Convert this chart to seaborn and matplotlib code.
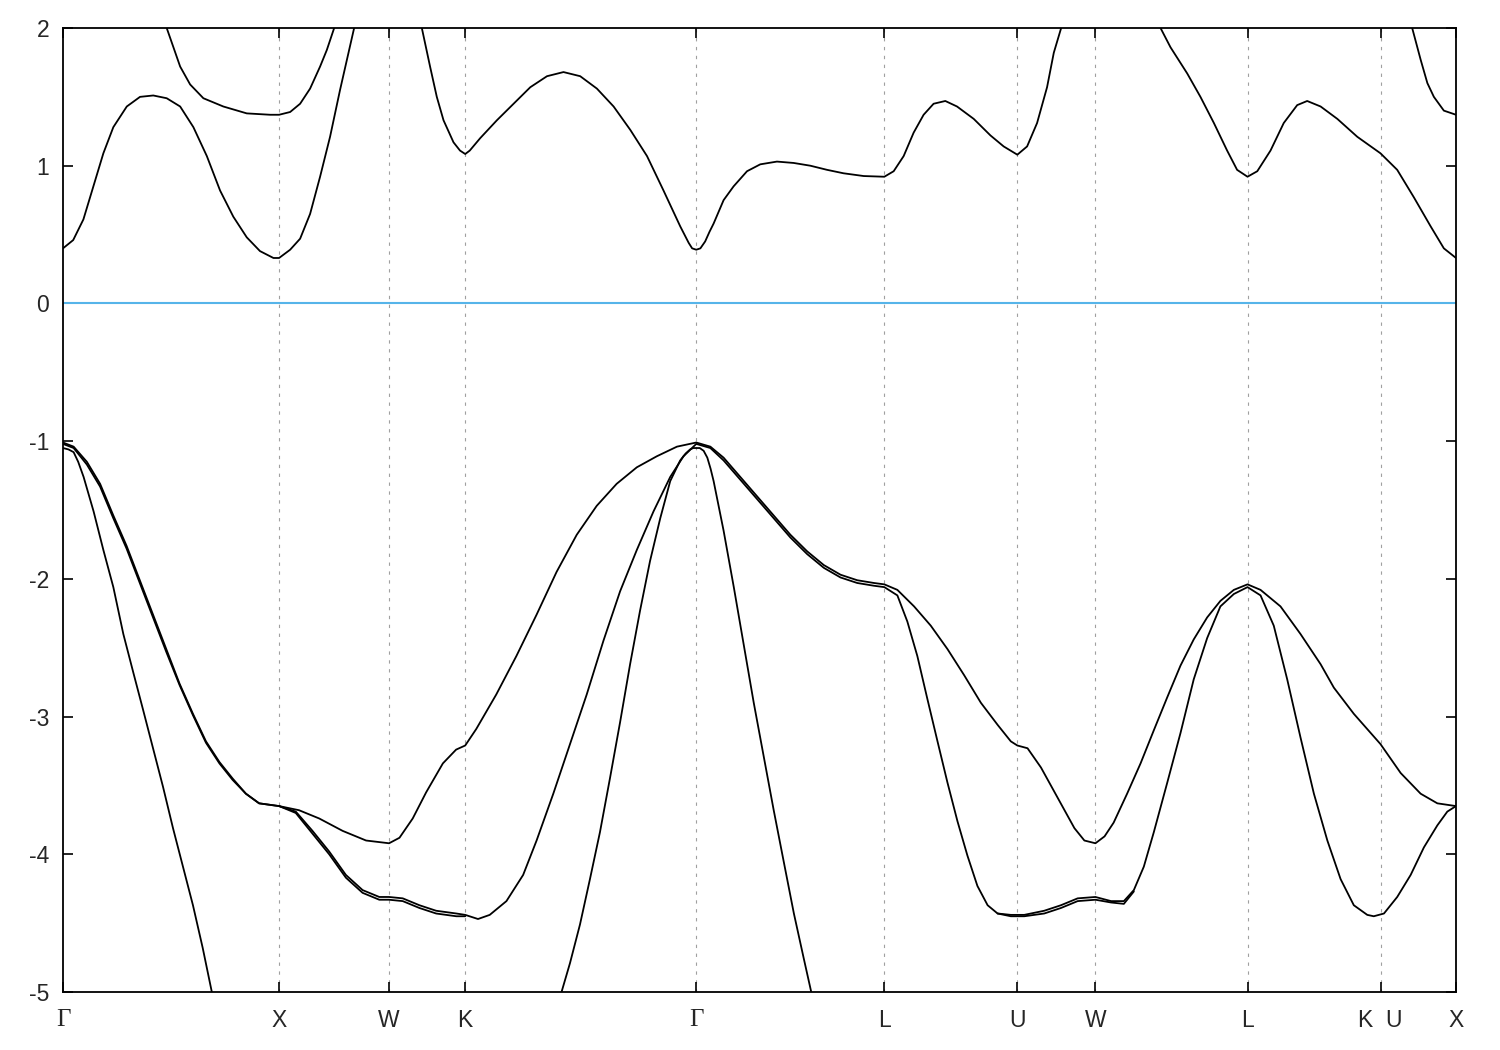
import matplotlib
matplotlib.use("Agg")
import matplotlib.pyplot as plt
import pandas as pd
import seaborn as sns

# High-symmetry points along the FCC path (path length units)
sym_labels = ["Γ", "X", "W", "K", "Γ", "L", "U", "W", "L", "K  U", "X"]
sym_k = [0.000, 0.996, 1.503, 1.854, 2.919, 3.786, 4.399, 4.759, 5.460, 6.073, 6.421]

# Conduction bands (eV); points above 2 eV leave the window
cb1_k = [0.000, 0.047, 0.094, 0.140, 0.186, 0.232, 0.294, 0.355, 0.416, 0.478,
         0.540, 0.601, 0.663, 0.724, 0.785, 0.847, 0.908, 0.970, 0.996, 1.047,
         1.093, 1.139, 1.185, 1.231, 1.277, 1.316, 1.342, 1.416, 1.503, 1.577,
         1.654, 1.692, 1.723, 1.754, 1.800, 1.830, 1.854, 1.875, 1.923, 2.000,
         2.077, 2.154, 2.231, 2.307, 2.384, 2.461, 2.538, 2.615, 2.692, 2.768,
         2.845, 2.884, 2.900, 2.919, 2.938, 2.960, 2.980, 2.999, 3.045, 3.091,
         3.153, 3.214, 3.291, 3.368, 3.445, 3.522, 3.598, 3.691, 3.786, 3.829,
         3.875, 3.921, 3.967, 4.013, 4.067, 4.121, 4.198, 4.275, 4.336, 4.399,
         4.444, 4.490, 4.536, 4.567, 4.601, 4.690, 4.828, 4.967, 5.059, 5.105,
         5.182, 5.243, 5.305, 5.366, 5.412, 5.460, 5.505, 5.566, 5.627, 5.689,
         5.735, 5.797, 5.874, 5.966, 6.073, 6.150, 6.227, 6.304, 6.365, 6.421]
cb1_e = [0.40, 0.46, 0.61, 0.85, 1.09, 1.28, 1.43, 1.50, 1.51, 1.49,
         1.43, 1.28, 1.07, 0.82, 0.63, 0.48, 0.38, 0.33, 0.33, 0.39,
         0.47, 0.65, 0.92, 1.21, 1.55, 1.82, 2.00, 2.50, 2.80, 2.50,
         2.00, 1.72, 1.50, 1.33, 1.17, 1.11, 1.085, 1.11, 1.20, 1.33,
         1.45, 1.57, 1.65, 1.68, 1.65, 1.56, 1.43, 1.26, 1.07, 0.82,
         0.56, 0.44, 0.40, 0.39, 0.40, 0.45, 0.52, 0.58, 0.75, 0.85,
         0.96, 1.01, 1.03, 1.02, 1.00, 0.97, 0.945, 0.925, 0.92, 0.96,
         1.07, 1.24, 1.37, 1.45, 1.47, 1.43, 1.34, 1.22, 1.14, 1.08,
         1.14, 1.31, 1.57, 1.82, 2.00, 2.60, 2.90, 2.50, 2.00, 1.86,
         1.67, 1.50, 1.31, 1.11, 0.97, 0.92, 0.96, 1.11, 1.31, 1.44,
         1.47, 1.43, 1.34, 1.21, 1.09, 0.97, 0.77, 0.56, 0.40, 0.33]

cb2a_k = [0.447, 0.478, 0.509, 0.540, 0.586, 0.647, 0.739, 0.847, 0.955, 0.996,
          1.047, 1.093, 1.139, 1.185, 1.216, 1.250, 1.300]
cb2a_e = [2.25, 2.00, 1.86, 1.72, 1.59, 1.49, 1.43, 1.38, 1.37, 1.37,
          1.39, 1.45, 1.56, 1.72, 1.84, 2.00, 2.30]

cb2b_k = [6.189, 6.219, 6.258, 6.289, 6.319, 6.365, 6.421]
cb2b_e = [2.30, 2.00, 1.77, 1.60, 1.50, 1.40, 1.37]

# Valence bands (eV)
vb1_k = [0.000, 0.049, 0.110, 0.171, 0.232, 0.293, 0.354, 0.415, 0.476, 0.537,
         0.599, 0.659, 0.721, 0.782, 0.843, 0.904, 0.996,
         1.088, 1.181, 1.289, 1.397, 1.503, 1.551, 1.612, 1.674, 1.751, 1.812,
         1.854, 1.905, 1.997, 2.090, 2.183, 2.275, 2.368, 2.460, 2.552, 2.645,
         2.737, 2.830, 2.919,
         2.984, 3.045, 3.122, 3.199, 3.276, 3.353, 3.430, 3.507, 3.584, 3.661,
         3.738, 3.786,
         3.846, 3.923, 4.000, 4.077, 4.154, 4.231, 4.308, 4.369, 4.399, 4.446,
         4.508, 4.585, 4.662, 4.708, 4.759,
         4.801, 4.843, 4.905, 4.967, 5.028, 5.090, 5.151, 5.212, 5.274, 5.335,
         5.397, 5.460,
         5.520, 5.612, 5.704, 5.797, 5.858, 5.950, 6.073, 6.166, 6.258, 6.335,
         6.421]
vb1_e = [-1.01, -1.04, -1.15, -1.31, -1.54, -1.76, -2.01, -2.26, -2.51, -2.76,
         -2.98, -3.18, -3.33, -3.45, -3.56, -3.63, -3.65,
         -3.68, -3.74, -3.83, -3.90, -3.92, -3.88, -3.74, -3.55, -3.34, -3.24,
         -3.21, -3.09, -2.84, -2.56, -2.26, -1.95, -1.68, -1.47, -1.31, -1.19,
         -1.11, -1.04, -1.01,
         -1.04, -1.12, -1.26, -1.40, -1.54, -1.68, -1.80, -1.90, -1.97, -2.01,
         -2.03, -2.04,
         -2.08, -2.20, -2.34, -2.51, -2.70, -2.90, -3.06, -3.18, -3.21, -3.23,
         -3.37, -3.59, -3.81, -3.90, -3.92,
         -3.87, -3.77, -3.56, -3.34, -3.10, -2.86, -2.63, -2.44, -2.28, -2.16,
         -2.08, -2.04,
         -2.08, -2.20, -2.40, -2.62, -2.79, -2.98, -3.20, -3.41, -3.56, -3.63,
         -3.65]

vb2_k = [0.000, 0.049, 0.110, 0.171, 0.232, 0.293, 0.354, 0.415, 0.476, 0.537,
         0.599, 0.659, 0.721, 0.782, 0.843, 0.904, 0.996,
         1.073, 1.150, 1.227, 1.304, 1.381, 1.458, 1.503, 1.566, 1.643, 1.720,
         1.813, 1.854, 1.913, 1.967, 2.044, 2.121, 2.183, 2.260, 2.337, 2.414,
         2.491, 2.568, 2.645, 2.722, 2.799, 2.860, 2.919,
         2.984, 3.045, 3.122, 3.199, 3.276, 3.353, 3.430, 3.507, 3.584, 3.661,
         3.738, 3.786,
         3.846, 3.892, 3.938, 3.984, 4.031, 4.077, 4.123, 4.169, 4.215, 4.262,
         4.308, 4.369, 4.431, 4.523, 4.600, 4.677, 4.759,
         4.831, 4.890, 4.936, 4.982, 5.028, 5.090, 5.151, 5.212, 5.274, 5.335,
         5.397, 5.460,
         5.520, 5.581, 5.643, 5.704, 5.766, 5.828, 5.889, 5.950, 6.012, 6.042,
         6.089, 6.150, 6.212, 6.273, 6.335, 6.381, 6.421]
vb2_e = [-1.02, -1.05, -1.17, -1.33, -1.56, -1.78, -2.03, -2.28, -2.53, -2.77,
         -2.99, -3.19, -3.34, -3.46, -3.56, -3.63, -3.65,
         -3.69, -3.83, -3.98, -4.15, -4.26, -4.31, -4.31, -4.32, -4.37, -4.41,
         -4.43, -4.44, -4.47, -4.44, -4.34, -4.15, -3.90, -3.56, -3.20, -2.84,
         -2.45, -2.09, -1.79, -1.51, -1.26, -1.11, -1.02,
         -1.05, -1.14, -1.28, -1.42, -1.56, -1.70, -1.82, -1.92, -1.99, -2.03,
         -2.05, -2.06,
         -2.12, -2.31, -2.56, -2.87, -3.18, -3.48, -3.76, -4.01, -4.23, -4.37,
         -4.43, -4.44, -4.44, -4.41, -4.37, -4.32, -4.31,
         -4.34, -4.34, -4.26, -4.09, -3.84, -3.48, -3.12, -2.73, -2.43, -2.20,
         -2.11, -2.06,
         -2.12, -2.34, -2.73, -3.15, -3.56, -3.90, -4.18, -4.37, -4.44, -4.45,
         -4.43, -4.31, -4.15, -3.95, -3.79, -3.69, -3.65]

# short split partners of vb2 (X-W-K and U-W)
split1_k = [0.996, 1.073, 1.150, 1.227, 1.304, 1.381, 1.458, 1.503, 1.566, 1.643,
            1.720, 1.813, 1.854]
split1_e = [-3.65, -3.70, -3.85, -4.00, -4.17, -4.28, -4.33, -4.33, -4.34, -4.39,
            -4.43, -4.45, -4.45]
split2_k = [4.308, 4.369, 4.431, 4.523, 4.600, 4.677, 4.759, 4.831, 4.890, 4.936]
split2_e = [-4.43, -4.45, -4.45, -4.43, -4.39, -4.34, -4.33, -4.35, -4.36, -4.27]

# steep bands dropping out of the window
steep1_k = [0.000, 0.025, 0.049, 0.070, 0.095, 0.141, 0.186, 0.232, 0.278, 0.324,
            0.369, 0.415, 0.461, 0.507, 0.553, 0.599, 0.644, 0.686, 0.710]
steep1_e = [-1.05, -1.06, -1.08, -1.15, -1.26, -1.51, -1.79, -2.06, -2.40, -2.68,
            -2.95, -3.23, -3.51, -3.81, -4.09, -4.37, -4.68, -5.00, -5.20]
steep2_k = [2.285, 2.298, 2.337, 2.383, 2.429, 2.475, 2.521, 2.568, 2.614, 2.660,
            2.706, 2.753, 2.799, 2.845, 2.870, 2.891, 2.905, 2.919, 2.935, 2.953,
            2.970, 2.985, 2.999, 3.045, 3.092, 3.138, 3.184, 3.230, 3.276, 3.323,
            3.369, 3.415, 3.449, 3.460]
steep2_e = [-5.10, -5.00, -4.79, -4.51, -4.18, -3.84, -3.45, -3.04, -2.62, -2.23,
            -1.87, -1.56, -1.29, -1.14, -1.09, -1.06, -1.05, -1.05, -1.05, -1.07,
            -1.12, -1.20, -1.29, -1.65, -2.06, -2.48, -2.90, -3.29, -3.68, -4.06,
            -4.43, -4.76, -5.00, -5.08]

bands = {
    "cb1": (cb1_k, cb1_e), "cb2a": (cb2a_k, cb2a_e), "cb2b": (cb2b_k, cb2b_e),
    "vb1": (vb1_k, vb1_e), "vb2": (vb2_k, vb2_e),
    "split1": (split1_k, split1_e), "split2": (split2_k, split2_e),
    "steep1": (steep1_k, steep1_e), "steep2": (steep2_k, steep2_e),
}
frames = [pd.DataFrame({"k": k, "E": e, "band": name}) for name, (k, e) in bands.items()]
df = pd.concat(frames, ignore_index=True)

sns.set_style("ticks")
plt.rcParams["font.family"] = ["Liberation Sans", "DejaVu Sans"]
plt.rcParams["axes.unicode_minus"] = False

fig = plt.figure(figsize=(15, 10.5), dpi=100)
ax = fig.add_axes([63 / 1500, 1 - 992 / 1050, (1456 - 63) / 1500, (992 - 28) / 1050])

# dashed guides at the interior high-symmetry points
for k in sym_k[1:-1]:
    ax.axvline(k, color="#a0a0a0", lw=0.8, ls=(0, (3, 5)), zorder=0)
ax.axhline(0, color="#56b4e9", lw=1.5, zorder=1)

sns.lineplot(data=df, x="k", y="E", units="band", estimator=None, sort=False,
             color="black", lw=1.3, ax=ax, legend=False)

ax.set_xlim(sym_k[0], sym_k[-1])
ax.set_ylim(-5, 2)
ax.set_xticks(sym_k)
ax.set_xticklabels(sym_labels)
ax.set_yticks(range(-5, 3))
ax.set_yticklabels([str(v) for v in range(-5, 3)])
ax.set_xlabel("")
ax.set_ylabel("")

ax.tick_params(axis="both", direction="in", length=7.5, width=1.2,
               top=True, right=True, labelsize=16.5, color="black")
ax.tick_params(axis="x", pad=12)
ax.tick_params(axis="y", pad=10)
for lab in ax.get_xticklabels():
    if lab.get_text() == "Γ":
        lab.set_fontfamily(["Liberation Serif", "DejaVu Serif"])
        lab.set_fontsize(18)

for sp in ax.spines.values():
    sp.set_visible(True)
    sp.set_linewidth(1.3)
    sp.set_color("black")

fig.savefig("out.png", dpi=100)
